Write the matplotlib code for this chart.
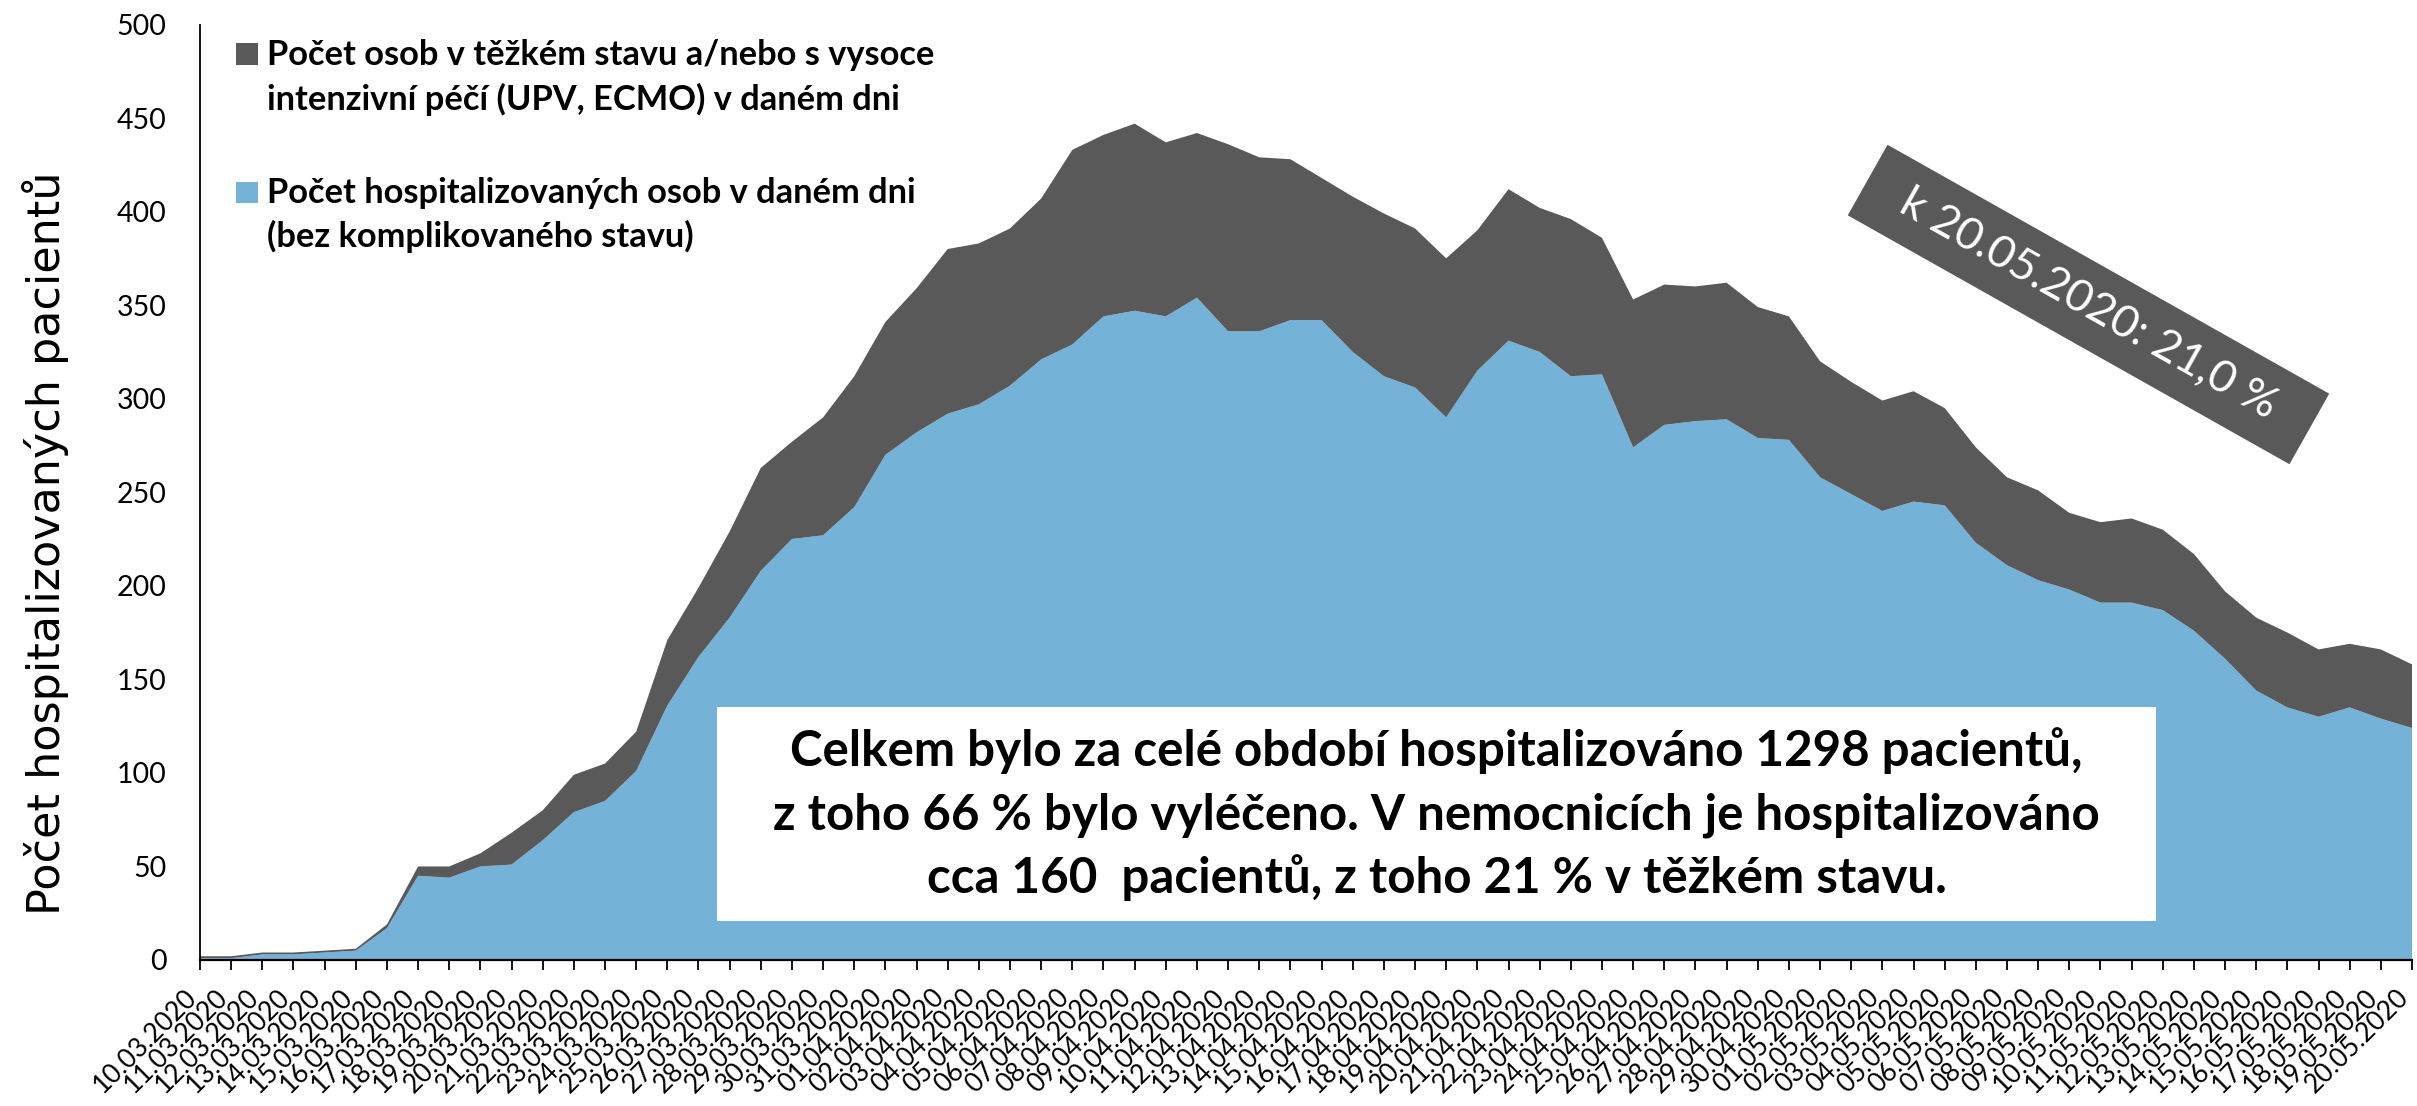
import matplotlib
matplotlib.use("Agg")
import matplotlib.pyplot as plt
import matplotlib.transforms as mtrans
from matplotlib.patches import Rectangle, Polygon
import numpy as np
import pandas as pd

# ---------------- data ----------------
dates = [d.strftime("%d.%m.%Y") for d in pd.date_range("2020-03-10", "2020-05-20", freq="D")]

# hospitalised without complicated condition (blue)
hospitalizovani = [1, 1, 3, 3, 4, 5, 17, 45, 44, 50,
                   51, 64, 79, 85, 101, 136, 162, 183, 208, 225,
                   227, 242, 270, 282, 292, 297, 307, 321, 329, 344,
                   347, 344, 354, 336, 336, 342, 342, 325, 312, 306,
                   290, 315, 331, 325, 312, 313, 274, 286, 288, 289,
                   279, 278, 258, 249, 240, 245, 243, 223, 211, 203,
                   198, 191, 191, 187, 176, 161, 144, 135, 130, 135,
                   129, 124]

# severe condition / intensive care (dark)
tezky_stav = [1, 1, 1, 1, 1, 1, 2, 5, 6, 7,
              17, 16, 20, 20, 21, 35, 37, 46, 55, 52,
              63, 70, 71, 77, 88, 86, 84, 86, 104, 97,
              100, 93, 88, 100, 93, 86, 76, 83, 87, 85,
              85, 75, 81, 77, 84, 73, 79, 75, 72, 73,
              70, 66, 62, 60, 59, 59, 52, 51, 47, 48,
              41, 43, 45, 43, 41, 36, 39, 40, 36, 34,
              37, 34]

y_ticks = list(range(0, 501, 50))

legend_dark = ["Počet osob v těžkém stavu a/nebo s vysoce",
               "intenzivní péčí (UPV, ECMO) v daném dni"]
legend_blue = ["Počet hospitalizovaných osob v daném dni",
               "(bez komplikovaného stavu)"]
note_lines = ["Celkem bylo za celé období hospitalizováno 1298 pacientů,",
              "z toho 66 % bylo vyléčeno. V nemocnicích je hospitalizováno",
              "cca 160  pacientů, z toho 21 % v těžkém stavu."]
badge_text = "k 20.05.2020: 21,0 %"

BLUE = "#74B2D7"
DARK = "#595959"

# ---------------- figure ----------------
W, H = 2417, 1106
fig = plt.figure(figsize=(W / 100, H / 100), dpi=100)


def fx(px):
    return px / W


def fy(py):
    return 1 - py / H


def fit_width(texts, target_px, ref_index=0):
    """Scale the font size of a group of texts so that texts[ref_index] is target_px wide."""
    fig.canvas.draw()
    r = fig.canvas.get_renderer()
    w = texts[ref_index].get_window_extent(r).width
    k = target_px / w
    for t in texts:
        t.set_fontsize(t.get_fontsize() * k)


ax = fig.add_axes([fx(200), fy(960), (2412 - 200) / W, (960 - 24.5) / H])
x = np.arange(len(dates))
ax.stackplot(x, hospitalizovani, tezky_stav, colors=[BLUE, DARK], linewidth=0)
ax.set_xlim(0, len(dates) - 1)
ax.set_ylim(0, 500)

for s in ["top", "right"]:
    ax.spines[s].set_visible(False)
ax.spines["left"].set_linewidth(1.3)
ax.spines["bottom"].set_linewidth(1.6)

ax.set_yticks(y_ticks)
ax.set_yticklabels([str(v) for v in y_ticks], fontsize=20.5, family="Lato")
ax.tick_params(axis="y", length=0, pad=24)

ax.set_xticks(x)
ax.set_xticklabels(dates, rotation=45, ha="right", va="top",
                   rotation_mode="anchor", fontsize=19, family="Lato")
ax.tick_params(axis="x", direction="out", length=7.5, width=1.3, pad=10)

fig.text(fx(46), 0.509, "Počet hospitalizovaných pacientů", rotation=90,
         ha="center", va="center", fontsize=32, family="DejaVu Sans")

# legend (manual)
fig.patches.append(Rectangle((fx(236), fy(65)), 22 / W, 22 / H, transform=fig.transFigure,
                             fc=DARK, ec="none"))
fig.patches.append(Rectangle((fx(236), fy(203)), 22 / W, 21 / H, transform=fig.transFigure,
                             fc=BLUE, ec="none"))
leg_texts = []
for txt, base in zip(legend_dark, [65, 110]):
    leg_texts.append(fig.text(fx(267), fy(base), txt, va="baseline", ha="left", fontsize=24,
                              fontweight="bold", family="Lato"))
for txt, base in zip(legend_blue, [203, 247]):
    leg_texts.append(fig.text(fx(267), fy(base), txt, va="baseline", ha="left", fontsize=24,
                              fontweight="bold", family="Lato"))
fit_width(leg_texts, 667, 0)

# white note box
bx0, bx1, by0, by1 = 717, 2156, 707, 921
note_box = Rectangle((fx(bx0), fy(by1)), (bx1 - bx0) / W, (by1 - by0) / H,
                     transform=fig.transFigure, fc="white", ec="none", zorder=2)
fig.patches.append(note_box)
note_texts = []
for txt, base in zip(note_lines, [766, 830, 893]):
    note_texts.append(fig.text(fx((bx0 + bx1) / 2), fy(base), txt, ha="center", va="baseline",
                               fontsize=32, fontweight="bold", family="Lato", zorder=3))
fit_width(note_texts, 1327, 1)

# rotated badge
cx, cy = 2088.5, 304.5
theta = np.deg2rad(29.4)
L, S = 507, 81
u = np.array([np.cos(theta), np.sin(theta)])
v = np.array([-np.sin(theta), np.cos(theta)])
c = np.array([cx, cy])
corners = [c - L / 2 * u - S / 2 * v, c + L / 2 * u - S / 2 * v,
           c + L / 2 * u + S / 2 * v, c - L / 2 * u + S / 2 * v]
poly = Polygon([(fx(p[0]), fy(p[1])) for p in corners], closed=True,
               transform=fig.transFigure, fc=DARK, ec="none", zorder=2)
fig.patches.append(poly)
badge = fig.text(fx(cx), fy(cy), badge_text, rotation=0, rotation_mode="anchor",
                 ha="center", va="center", color="white", fontsize=31, family="Lato", zorder=3)
fit_width([badge], 425)
badge.set_rotation(-29.4)

# shift the rotated date labels slightly left so the ink ends at the tick
shift = mtrans.ScaledTranslation(-16 / 100, 0, fig.dpi_scale_trans)
for lab in ax.get_xticklabels():
    lab.set_transform(lab.get_transform() + shift)

fig.savefig("out.png", dpi=100)
